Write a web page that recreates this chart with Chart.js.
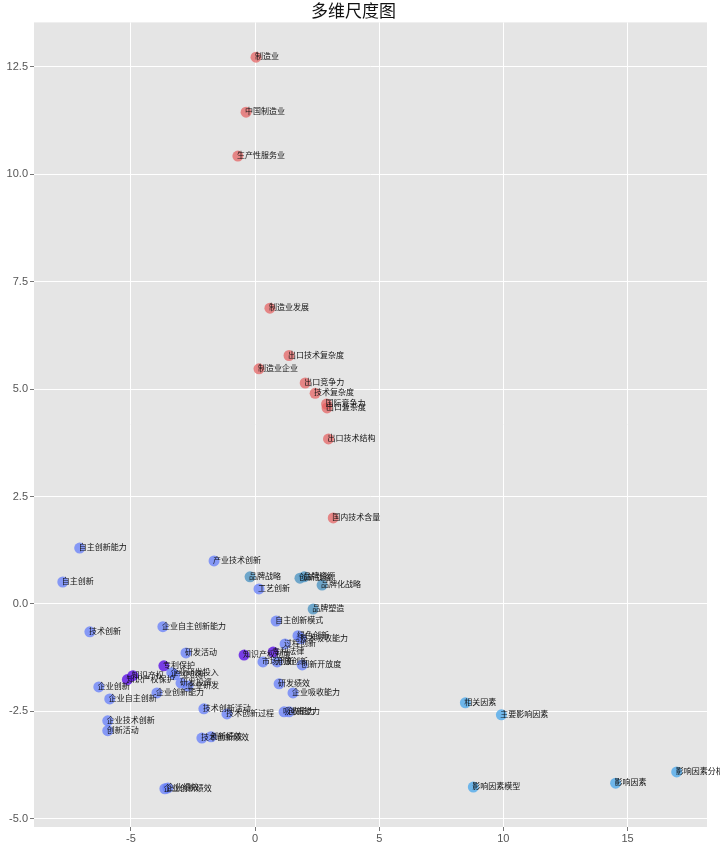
<!DOCTYPE html>
<html><head><meta charset="utf-8">
<script src="https://cdn.jsdelivr.net/npm/chart.js@4.4.1/dist/chart.umd.min.js"></script>
<style>html,body{margin:0;padding:0;background:#fff}#wrap{width:720px;height:845px}</style>
</head><body><div id="wrap"><canvas id="c" width="720" height="845"></canvas></div>
<script>
const chartTitle = "多维尺度图";
const xTicks = [-5, 0, 5, 10, 15];
const yTicks = [-5, -2.5, 0, 2.5, 5, 7.5, 10, 12.5];

const redLabels = ["制造业","中国制造业","生产性服务业","制造业发展","出口技术复杂度","制造业企业","出口竞争力","技术复杂度","国际竞争力","出口复杂度","出口技术结构","国内技术含量"];
const redX = [0.04,-0.36,-0.69,0.60,1.37,0.16,2.02,2.42,2.88,2.90,2.96,3.15];
const redY = [12.72,11.44,10.42,6.88,5.78,5.47,5.14,4.90,4.65,4.56,3.84,2.00];

const blueLabels = ["自主创新能力","自主创新","产业技术创新","工艺创新","自主创新模式","技术创新","企业自主创新能力","研发活动","绿色创新","技术吸收能力","过程创新","市场创新","开放创新","创新开放度","研发绩效","企业吸收能力","企业研发投入","产业创新","企业创新","企业自主创新","研发投资","企业研发","企业创新能力","技术创新活动","技术创新过程","企业技术创新","创新活动","技术创新绩效","创新绩效","企业创新绩效","企业绩效","吸收能力","创新能力"];
const blueX = [-7.06,-7.74,-1.65,0.16,0.85,-6.65,-3.71,-2.78,1.73,1.85,1.21,0.32,0.89,1.90,0.97,1.53,-3.35,-3.23,-6.29,-5.85,-2.98,-2.70,-3.95,-2.06,-1.13,-5.93,-5.93,-2.14,-1.77,-3.63,-3.51,1.17,1.37];
const blueY = [1.30,0.51,1.00,0.35,-0.40,-0.65,-0.53,-1.14,-0.74,-0.81,-0.93,-1.35,-1.35,-1.42,-1.86,-2.07,-1.60,-1.65,-1.93,-2.21,-1.84,-1.91,-2.07,-2.44,-2.56,-2.72,-2.95,-3.12,-3.09,-4.30,-4.28,-2.51,-2.51];

const purpleLabels = ["知识产权制度","专利法律","专利保护","知识产权","知识产权保护"];
const purpleX = [-0.44,0.73,-3.67,-4.92,-5.14];
const purpleY = [-1.19,-1.12,-1.44,-1.67,-1.76];

const tealLabels = ["品牌战略","创新战略","品牌资源","品牌化战略","品牌塑造"];
const tealX = [-0.20,1.81,1.98,2.70,2.34];
const tealY = [0.63,0.60,0.63,0.44,-0.12];

const skyLabels = ["相关因素","主要影响因素","影响因素模型","影响因素","影响因素分析"];
const skyX = [8.47,9.92,8.79,14.52,16.98];
const skyY = [-2.30,-2.58,-4.26,-4.17,-3.91];

function ds(labels, xs, ys, color){
  return {data: xs.map((x,i)=>({x:x, y:ys[i], label:labels[i]})),
    backgroundColor: color, borderWidth:0, pointRadius:5.5, pointHoverRadius:5.5};
}

const bgPlugin = {
  id:'bg',
  beforeDraw(chart){
    const {ctx, chartArea:a} = chart;
    ctx.save(); ctx.fillStyle = '#E5E5E5';
    ctx.fillRect(a.left, a.top, a.right-a.left, a.bottom-a.top); ctx.restore();
  }
};
const labelPlugin = {
  id:'lbl',
  afterDatasetsDraw(chart){
    const ctx = chart.ctx;
    ctx.save();
    ctx.font = '8px "Noto Sans CJK SC"';
    ctx.fillStyle = '#111'; ctx.textAlign='left'; ctx.textBaseline='middle';
    chart.data.datasets.forEach((d,di)=>{
      const meta = chart.getDatasetMeta(di);
      meta.data.forEach((el,i)=>{
        ctx.fillText(d.data[i].label, el.x-1, el.y-1);
      });
    });
    ctx.restore();
  }
};

new Chart(document.getElementById('c'), {
  type:'scatter',
  data:{datasets:[
    ds(redLabels, redX, redY, 'rgba(228,95,95,0.72)'),
    ds(blueLabels, blueX, blueY, 'rgba(100,125,250,0.75)'),
    ds(purpleLabels, purpleX, purpleY, 'rgba(100,30,230,0.85)'),
    ds(tealLabels, tealX, tealY, 'rgba(80,150,195,0.8)'),
    ds(skyLabels, skyX, skyY, 'rgba(80,170,235,0.8)')
  ]},
  options:{
    responsive:false, animation:false, devicePixelRatio:1,
    layout:{padding:{left:0,right:13,top:0,bottom:0}},
    plugins:{
      legend:{display:false}, tooltip:{enabled:false},
      title:{display:true, text:chartTitle, color:'#111',
        font:{family:'"Noto Sans CJK SC"', size:17, weight:'normal'}, padding:{top:0,bottom:2}}
    },
    scales:{
      x:{type:'linear', min:-8.9, max:18.2,
        afterBuildTicks(s){ s.ticks = xTicks.map(v=>({value:v})); },
        afterFit(s){ s.height = 18; },
        grid:{color:'#ffffff', lineWidth:1, tickLength:4, tickColor:'#777'},
        border:{display:false},
        ticks:{color:'#555', font:{family:'"Liberation Sans"', size:11}, padding:1, maxRotation:0,
          callback:v=>String(v)}
      },
      y:{type:'linear', min:-5.19, max:13.53,
        afterBuildTicks(s){ s.ticks = yTicks.map(v=>({value:v})); },
        afterFit(s){ s.width = 34; },
        grid:{color:'#ffffff', lineWidth:1, tickLength:4, tickColor:'#777'},
        border:{display:false},
        ticks:{color:'#555', font:{family:'"Liberation Sans"', size:11}, padding:2,
          callback:v=>v.toFixed(1)}
      }
    }
  },
  plugins:[bgPlugin, labelPlugin]
});
</script></body></html>
